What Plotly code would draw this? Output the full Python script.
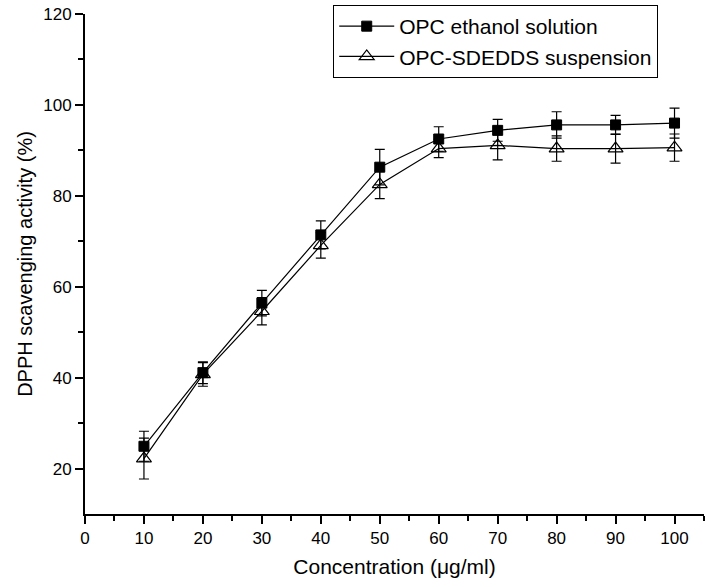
import plotly.graph_objects as go

conc = [10, 20, 30, 40, 50, 60, 70, 80, 90, 100]
ethanol = [24.9, 41.1, 56.4, 71.4, 86.3, 92.5, 94.4, 95.6, 95.6, 96.0]
ethanol_err = [3.3, 2.4, 2.8, 3.1, 3.9, 2.7, 2.4, 2.9, 2.1, 3.3]
sdedds = [22.2, 40.7, 54.6, 69.1, 82.5, 90.4, 91.1, 90.4, 90.4, 90.6]
sdedds_err = [4.5, 2.6, 3.0, 2.8, 3.1, 2.0, 3.2, 2.8, 3.2, 3.0]

font = "Liberation Sans, Arial, sans-serif"

fig = go.Figure()
fig.add_trace(go.Scatter(
    x=conc, y=ethanol, mode="lines+markers", name="OPC ethanol solution",
    line=dict(color="black", width=1.2),
    marker=dict(symbol="square", size=10, color="black", line=dict(color="black", width=1)),
    error_y=dict(type="data", array=ethanol_err, visible=True, color="black", thickness=1.2, width=5),
))
fig.add_trace(go.Scatter(
    x=conc, y=sdedds, mode="lines+markers", name="OPC-SDEDDS suspension",
    line=dict(color="black", width=1.2),
    marker=dict(symbol="triangle-up-open", size=13, color="black", line=dict(color="black", width=1.2)),
    error_y=dict(type="data", array=sdedds_err, visible=True, color="black", thickness=1.2, width=5),
))

fig.update_layout(
    width=709, height=587,
    margin=dict(l=85, r=5, t=12, b=73),
    paper_bgcolor="white", plot_bgcolor="white",
    font=dict(family=font, size=17, color="black"),
    showlegend=True,
    legend=dict(
        x=0.401, y=1.018, xanchor="left", yanchor="top",
        bordercolor="black", borderwidth=1, bgcolor="white",
        font=dict(family=font, size=21, color="black"),
        tracegroupgap=0, itemwidth=55,
    ),
    xaxis=dict(
        range=[0, 105], tickvals=[0, 10, 20, 30, 40, 50, 60, 70, 80, 90, 100],
        showgrid=False, zeroline=False, automargin=False,
        showline=True, linecolor="black", linewidth=2,
        ticks="outside", ticklen=8, tickwidth=2, tickcolor="black",
        minor=dict(tickvals=[5, 15, 25, 35, 45, 55, 65, 75, 85, 95, 105], ticks="outside", ticklen=5, tickwidth=2, tickcolor="black"),
        title=dict(text="Concentration (μg/ml)", font=dict(size=21), standoff=12),
        tickfont=dict(size=17),
    ),
    yaxis=dict(
        range=[10, 120], tickvals=[20, 40, 60, 80, 100, 120],
        showgrid=False, zeroline=False, automargin=False,
        showline=True, linecolor="black", linewidth=2,
        ticks="outside", ticklen=8, tickwidth=2, tickcolor="black",
        minor=dict(tickvals=[30, 50, 70, 90, 110], ticks="outside", ticklen=5, tickwidth=2, tickcolor="black"),
        title=dict(text="DPPH scavenging activity (%)", font=dict(size=20), standoff=5),
        tickfont=dict(size=17),
    ),
)

fig.write_html("out.html", config={"displayModeBar": False},
               post_script="document.body.style.margin='0px';")
